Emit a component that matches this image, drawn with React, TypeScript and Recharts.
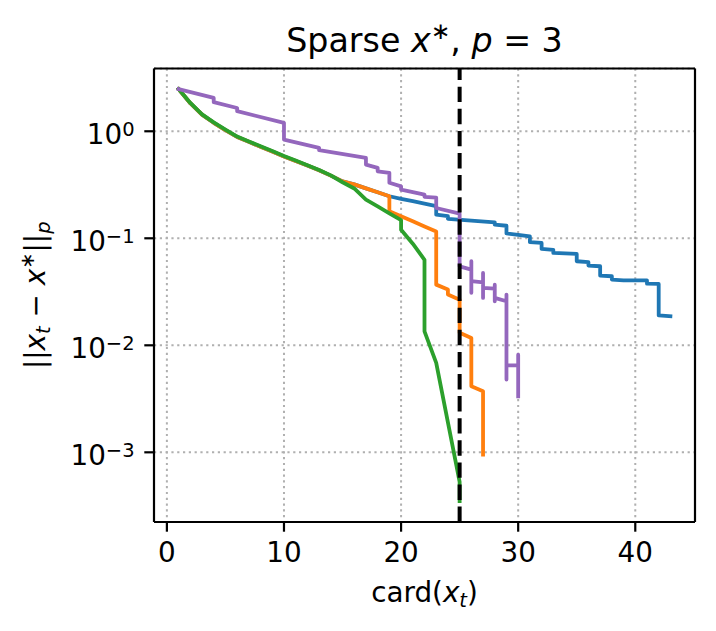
import React from 'react';
import { LineChart, Line, XAxis, YAxis, CartesianGrid, ReferenceLine } from 'recharts';

const FONT = '"DejaVu Sans", sans-serif';

// axis ticks
const xTicks = [0, 10, 20, 30, 40];
const yTicks = [1e-3, 1e-2, 1e-1, 1];
const xDomain = [-1.1, 45.1];
const yDomain = [2.233e-4, 3.86];
const cutoffCard = 25;

// series: cardinality (x) and error (y)
const blueCard = [1, 2, 3, 4, 5, 6, 7, 8, 9, 10, 11, 12, 13, 14, 15, 16, 17, 18, 19, 20, 21, 22, 23, 23, 24, 24, 26, 28, 28, 29, 29, 30, 31, 31, 32, 32, 33, 33, 35, 35, 36, 36, 37, 37, 38, 38, 39, 41, 41, 42, 42, 43];
const blueErr = [2.48, 1.83, 1.43, 1.2, 1.025, 0.885, 0.797, 0.717, 0.647, 0.582, 0.528, 0.478, 0.432, 0.385, 0.34, 0.319, 0.293, 0.269, 0.247, 0.234, 0.222, 0.211, 0.2, 0.166, 0.161, 0.152, 0.146, 0.141, 0.134, 0.131, 0.111, 0.1076, 0.104, 0.092, 0.0905, 0.0796, 0.078, 0.073, 0.0715, 0.061, 0.0598, 0.0556, 0.0548, 0.0448, 0.0442, 0.0411, 0.0405, 0.0404, 0.0377, 0.0375, 0.019, 0.0187];

const orangeCard = [1, 2, 3, 4, 5, 6, 7, 8, 9, 10, 11, 12, 13, 14, 15, 16, 17, 18, 19, 19, 20, 21, 22, 23, 23, 24, 24, 25, 25, 26, 26, 27, 27];
const orangeErr = [2.48, 1.83, 1.43, 1.2, 1.025, 0.885, 0.797, 0.717, 0.647, 0.582, 0.528, 0.478, 0.432, 0.385, 0.34, 0.319, 0.293, 0.269, 0.247, 0.179, 0.161, 0.144, 0.129, 0.116, 0.0369, 0.0332, 0.0298, 0.0267, 0.0131, 0.0117, 0.00414, 0.00372, 0.00095];

const greenCard = [1, 2, 3, 4, 5, 6, 7, 8, 9, 10, 11, 12, 13, 14, 15, 16, 17, 18, 19, 20, 20, 21, 22, 22, 23, 24, 25, 25];
const greenErr = [2.48, 1.84, 1.44, 1.21, 1.035, 0.892, 0.804, 0.724, 0.653, 0.587, 0.533, 0.482, 0.435, 0.387, 0.334, 0.292, 0.23, 0.199, 0.171, 0.148, 0.12, 0.089, 0.063, 0.0135, 0.00685, 0.0019, 5.3e-4, 3.5e-4];

const purpleCard = [1, 4, 4, 6, 6, 10, 10, 13, 13, 17, 17, 18, 18, 19, 19, 20, 20, 22, 22, 23, 23, 25, 25, 26, 26, 26, 26, 27, 27, 27, 27, 28, 28, 28, 28, 29, 29, 29, 29, 30, 30, 30];
const purpleErr = [2.48, 2.05, 1.87, 1.65, 1.54, 1.2, 0.836, 0.7, 0.665, 0.564, 0.488, 0.455, 0.423, 0.409, 0.33, 0.306, 0.285, 0.256, 0.244, 0.24, 0.192, 0.17, 0.0547, 0.051, 0.061, 0.0309, 0.0397, 0.0388, 0.0475, 0.0277, 0.0344, 0.0339, 0.0369, 0.0258, 0.0277, 0.0258, 0.0298, 0.00478, 0.0065, 0.0065, 0.00818, 0.00334];

const toPoints = (cards: number[], errs: number[]) => cards.map((x, i) => ({ x, y: errs[i] }));

const series = [
  { name: 'blue', color: '#1f77b4', data: toPoints(blueCard, blueErr) },
  { name: 'orange', color: '#ff7f0e', data: toPoints(orangeCard, orangeErr) },
  { name: 'green', color: '#2ca02c', data: toPoints(greenCard, greenErr) },
  { name: 'purple', color: '#9467bd', data: toPoints(purpleCard, purpleErr) },
];

const TICK_FS = 27.8;
const SUB_FS = 19.5;

const XTick = (props: any) => {
  const { x, y, payload } = props;
  return (
    <text x={x} y={y + 21} textAnchor="middle" fontFamily={FONT} fontSize={TICK_FS} fill="#000">
      {String(payload.value)}
    </text>
  );
};

const YTick = (props: any) => {
  const { x, y, payload } = props;
  const exp = Math.round(Math.log10(payload.value));
  const expStr = exp < 0 ? '\u2212' + Math.abs(exp) : String(exp);
  return (
    <text x={x} y={y + 12.8} textAnchor="end" fontFamily={FONT} fontSize={TICK_FS} fill="#000">
      <tspan>10</tspan>
      <tspan dy={-8} fontSize={SUB_FS}>{expStr}</tspan>
    </text>
  );
};

export default function App() {
  const W = 716;
  const H = 631;
  return (
    <div style={{ position: 'absolute', left: 0, top: 0, width: W, height: H, background: '#fff' }}>
      <LineChart width={W} height={H} margin={{ top: 68.5, right: 21, bottom: 0, left: 0 }}>
        <CartesianGrid stroke="#b0b0b0" strokeDasharray="2.2 3.6" strokeWidth={2} />
        <XAxis
          type="number"
          dataKey="x"
          domain={xDomain}
          allowDataOverflow
          ticks={xTicks}
          height={109}
          tickSize={9.7}
          tickMargin={9.7}
          axisLine={{ stroke: '#000', strokeWidth: 2.2 }}
          tickLine={{ stroke: '#000', strokeWidth: 2.2 }}
          tick={<XTick />}
          interval={0}
        />
        <YAxis
          type="number"
          dataKey="y"
          scale="log"
          domain={yDomain}
          allowDataOverflow
          ticks={yTicks}
          width={154}
          tickSize={9.7}
          tickMargin={9.7}
          axisLine={{ stroke: '#000', strokeWidth: 2.2 }}
          tickLine={{ stroke: '#000', strokeWidth: 2.2 }}
          tick={<YTick />}
          interval={0}
        />
        {series.map((s) => (
          <Line
            key={s.name}
            data={s.data}
            dataKey="y"
            type="linear"
            stroke={s.color}
            strokeWidth={3.8}
            strokeLinejoin="round"
            strokeLinecap="square"
            dot={false}
            activeDot={false}
            isAnimationActive={false}
          />
        ))}
        <ReferenceLine x={cutoffCard} stroke="#000" strokeWidth={4} strokeDasharray="15.4 6.7" />
        <ReferenceLine y={yDomain[1]} stroke="#000" strokeWidth={2.2} ifOverflow="visible" />
        <ReferenceLine x={xDomain[1]} stroke="#000" strokeWidth={2.2} ifOverflow="visible" />
      </LineChart>
      <svg width={W} height={H} style={{ position: 'absolute', left: 0, top: 0, pointerEvents: 'none' }}>
        <text x={424.5} y={52} textAnchor="middle" fontFamily={FONT} fontSize={33.3} fill="#000">
          <tspan>Sparse </tspan>
          <tspan fontStyle="italic">x</tspan>
          <tspan dy={-13} fontSize={23.3}>{'\u2217'}</tspan>
          <tspan dy={13}>, </tspan>
          <tspan fontStyle="italic">p</tspan>
          <tspan> = 3</tspan>
        </text>
        <text x={424.5} y={601.5} textAnchor="middle" fontFamily={FONT} fontSize={TICK_FS} fill="#000">
          <tspan>card(</tspan>
          <tspan fontStyle="italic">x</tspan>
          <tspan fontStyle="italic" fontSize={SUB_FS} dy={5}>t</tspan>
          <tspan dy={-5}>)</tspan>
        </text>
        <text
          x={45}
          y={295.25}
          transform="rotate(-90, 45, 295.25)"
          textAnchor="middle"
          fontFamily={FONT}
          fontSize={TICK_FS}
          fill="#000"
        >
          <tspan>||</tspan>
          <tspan fontStyle="italic">x</tspan>
          <tspan fontStyle="italic" fontSize={SUB_FS} dy={5}>t</tspan>
          <tspan dy={-5}>{' \u2212 '}</tspan>
          <tspan fontStyle="italic">x</tspan>
          <tspan fontSize={SUB_FS} dy={-11}>{'\u2217'}</tspan>
          <tspan dy={11}>||</tspan>
          <tspan fontStyle="italic" fontSize={SUB_FS} dy={5}>p</tspan>
        </text>
      </svg>
    </div>
  );
}
